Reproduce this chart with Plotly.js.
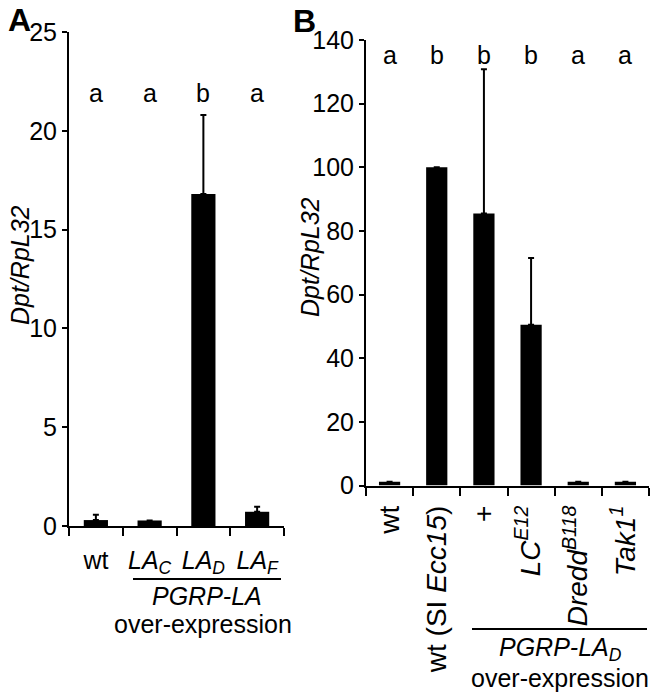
<!DOCTYPE html>
<html>
<head>
<meta charset="utf-8">
<script src="https://cdn.plot.ly/plotly-3.0.1.min.js"></script>
<style>html,body{margin:0;padding:0;background:#fff;}#chart{width:657px;height:698px;}</style>
</head>
<body>
<div id="chart"></div>
<script>
// Panel A data
var catsA = ['wt', '<i>LA<sub>C</sub></i>', '<i>LA<sub>D</sub></i>', '<i>LA<sub>F</sub></i>'];
var valsA = [0.3, 0.28, 16.8, 0.72];
var errA = [0.27, 0, 4.0, 0.26];
var lettersA = ['a', 'a', 'b', 'a'];

// Panel B data
var catsB = ['wt', 'wt (SI <i>Ecc15</i>)', '+', '<i>LC<sup>E12</sup></i>', '<i>Dredd<sup>B118</sup></i>', '<i>Tak1<sup>1</sup></i>'];
var valsB = [1.2, 100, 85.5, 50.5, 1.2, 1.2];
var errB = [0, 0, 45.3, 21.0, 0, 0];
var lettersB = ['a', 'b', 'b', 'b', 'a', 'a'];

var yTicksA = [0, 5, 10, 15, 20, 25];
var yTicksB = [0, 20, 40, 60, 80, 100, 120, 140];

var FONT = 'Liberation Sans, Arial, sans-serif';
var FS = 25;

function zeros(n){ var a=[]; for(var i=0;i<n;i++) a.push(0); return a; }

var traces = [
  {type:'bar', x:catsA, y:valsA, xaxis:'x', yaxis:'y', marker:{color:'#000', line:{width:0}},
   error_y:{type:'data', array:errA, arrayminus:zeros(errA.length), symmetric:false, color:'#000', thickness:2, width:3},
   hoverinfo:'none'},
  {type:'bar', x:catsB, y:valsB, xaxis:'x2', yaxis:'y2', marker:{color:'#000', line:{width:0}},
   error_y:{type:'data', array:errB, arrayminus:zeros(errB.length), symmetric:false, color:'#000', thickness:2, width:3},
   hoverinfo:'none'}
];

function px(x){ return x/657; }
function py(y){ return 1 - y/698; }

function txt(x, y, text, size, angle){
  return {x:px(x), y:py(y), xref:'paper', yref:'paper', text:text, showarrow:false, xanchor:'center', yanchor:'middle',
    textangle:angle||0, font:{family:FONT,size:size,color:'#000'}};
}

var annotations = [];
for (var i=0;i<catsA.length;i++){
  annotations.push({x:catsA[i], y:21.9, xref:'x', yref:'y', text:lettersA[i], showarrow:false, xanchor:'center',
    font:{family:FONT,size:FS,color:'#000'}, yanchor:'middle'});
}
for (var j=0;j<catsB.length;j++){
  annotations.push({x:catsB[j], y:135.4, xref:'x2', yref:'y2', text:lettersB[j], showarrow:false, xanchor:'center',
    font:{family:FONT,size:FS,color:'#000'}, yanchor:'middle'});
}
annotations.push(txt(19, 20, '<b>A</b>', 32));
annotations.push(txt(304, 21, '<b>B</b>', 32));
annotations.push(txt(20, 265, '<i>Dpt/RpL32</i>', FS, -90));
annotations.push(txt(310, 257, '<i>Dpt/RpL32</i>', FS, -90));
annotations.push(txt(207, 596, '<i>PGRP-LA</i>', FS));
annotations.push(txt(203, 624, 'over-expression', FS));
annotations.push(txt(560, 649, '<i>PGRP-LA<sub>D</sub></i>', FS));
annotations.push(txt(560, 678, 'over-expression', FS));

var shapes = [
  {type:'line', xref:'paper', yref:'paper', x0:px(133), x1:px(281), y0:py(579), y1:py(579), line:{color:'#000', width:2}},
  {type:'line', xref:'paper', yref:'paper', x0:px(472), x1:px(647), y0:py(629), y1:py(629), line:{color:'#000', width:2}}
];

function xax(domain, cats, angle, standoff, fs){
  return {domain:domain, type:'category', range:[-0.5, cats.length-0.5], showline:true, linecolor:'#000', linewidth:2,
    ticks:'outside', tickson:'boundaries', ticklen:8, tickwidth:2, tickcolor:'#000', showgrid:false, zeroline:false,
    tickangle:angle, ticklabelstandoff:standoff, tickfont:{family:FONT,size:fs,color:'#000'}, fixedrange:true};
}
function yax(domain, range, tv){
  return {domain:domain, range:range, showline:true, linecolor:'#000', linewidth:2, ticks:'outside', ticklen:5,
    tickwidth:2, tickcolor:'#000', tickvals:tv, ticktext:tv.map(String), showgrid:false, zeroline:false,
    tickfont:{family:FONT,size:FS,color:'#000'}, fixedrange:true};
}

var layout = {
  width:657, height:698, margin:{l:0,r:0,t:0,b:0}, paper_bgcolor:'#fff', plot_bgcolor:'#fff',
  showlegend:false, bargap:0.55, font:{family:FONT,size:FS,color:'#000'},
  xaxis: Object.assign(xax([px(69), px(284)], catsA, 0, 11, FS), {anchor:'y'}),
  yaxis: Object.assign(yax([py(526), py(32)], [0,25], yTicksA), {anchor:'x'}),
  xaxis2: Object.assign(xax([px(366), px(649)], catsB, -90, 7, 28), {anchor:'y2'}),
  yaxis2: Object.assign(yax([py(485.5), py(40)], [0,140], yTicksB), {anchor:'x2'}),
  annotations: annotations, shapes: shapes
};

Plotly.newPlot('chart', traces, layout, {displayModeBar:false, staticPlot:true});
</script>
</body>
</html>
